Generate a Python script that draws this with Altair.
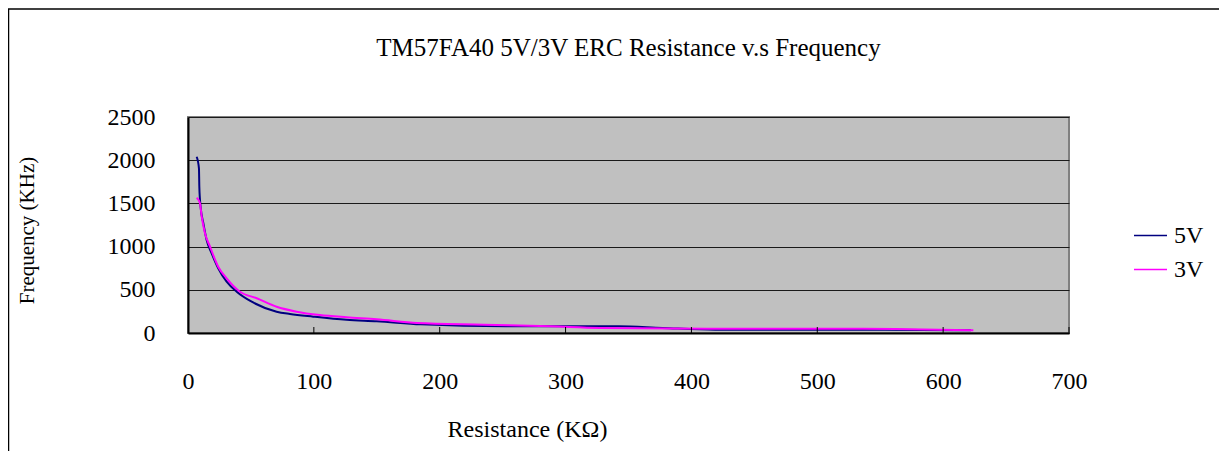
import altair as alt
import pandas as pd

series = ["5V", "3V"]
colors = ["#000080", "#FF00FF"]

r_5v = [6.9, 8.7, 9.0, 10.0, 12.2, 14.8, 18.8, 24.0, 30.7, 38.7, 50.6, 70.4, 81.0, 99.5,
        126.0, 150.0, 185.0, 253.0, 342.0, 377.0, 419.0, 554.0, 622.0]
f_5v = [2040, 1906, 1693, 1462, 1270, 1076, 922, 749, 594, 478, 362, 247, 220, 189,
        152, 135, 100, 77, 77, 58, 39, 39, 31]

r_3v = [6.9, 9.5, 10.9, 13.5, 17.5, 24.0, 30.7, 41.3, 54.6, 70.4, 86.3, 104.8, 126.0,
        150.0, 182.0, 235.0, 288.0, 327.0, 412.0, 536.0, 624.0]
f_3v = [1566, 1501, 1346, 1154, 999, 767, 633, 478, 402, 304, 247, 208, 182,
        159, 116, 96, 77, 58, 50, 50, 31]

x_ticks = [0, 100, 200, 300, 400, 500, 600, 700]
y_ticks = [0, 500, 1000, 1500, 2000, 2500]

title_text = "TM57FA40 5V/3V ERC Resistance v.s Frequency"
x_title = "Resistance (KΩ)"
y_title = "Frequency (KHz)"

df = pd.DataFrame({
    "R": r_5v + r_3v,
    "F": f_5v + f_3v,
    "Series": [series[0]] * len(r_5v) + [series[1]] * len(r_3v),
    "ord": list(range(len(r_5v))) + list(range(len(r_3v))),
})
tick_df = pd.DataFrame({"R": x_ticks[1:]})
one = pd.DataFrame({"a": [0]})

W, H = 881, 216
FONT = "Liberation Serif"

x_scale = alt.Scale(domain=[0, 700], nice=False)
y_scale = alt.Scale(domain=[0, 2500], nice=False)

x_axis = alt.Axis(values=x_ticks, title=x_title, grid=False, ticks=False, format="d",
                  labelPadding=36, labelFlush=False, domainColor="#000000", domainWidth=2,
                  titleX=339, titleY=96, titleAlign="center", titleBaseline="middle",
                  titleFontSize=24)
y_axis = alt.Axis(values=y_ticks, title=y_title, grid=True, ticks=False, format="d",
                  gridColor="#1a1a1a", gridWidth=1,
                  labelPadding=33, domainColor="#000000", domainWidth=2,
                  titleX=-161, titleY=113, titleAngle=270,
                  titleAlign="center", titleBaseline="middle", titleFontSize=21)

lines = alt.Chart(df).mark_line(strokeWidth=2, interpolate="monotone").encode(
    x=alt.X("R:Q", scale=x_scale, axis=x_axis),
    y=alt.Y("F:Q", scale=y_scale, axis=y_axis),
    color=alt.Color("Series:N", scale=alt.Scale(domain=series, range=colors),
                    legend=alt.Legend(title=None, orient="none", legendX=945, legendY=101,
                                      symbolType="stroke", symbolSize=1089,
                                      symbolStrokeWidth=1.5, labelFont=FONT,
                                      labelFontSize=24, labelColor="#000000",
                                      labelOffset=6, rowPadding=4)),
    order="ord:Q",
)

ticks = alt.Chart(tick_df).mark_rule(color="#000000", strokeWidth=1).encode(
    x=alt.X("R:Q", scale=x_scale, axis=x_axis),
    y=alt.value(H),
    y2=alt.value(H - 6),
)

frame_left = alt.Chart(one).mark_rule(color="#000000", strokeWidth=1.5).encode(
    x=alt.value(-179.5), y=alt.value(-108), y2=alt.value(360)
)
frame_top = alt.Chart(one).mark_rule(color="#000000", strokeWidth=1.5).encode(
    x=alt.value(-180), x2=alt.value(1060), y=alt.value(-108)
)

chart = alt.layer(lines, ticks, frame_left, frame_top).properties(
    width=W,
    height=H,
    title=alt.TitleParams(title_text, font=FONT, fontSize=25, fontWeight="normal",
                          color="#000000", anchor="middle", offset=0, dy=53),
    padding={"left": 180, "top": 109, "right": 150, "bottom": 118},
    autosize="none",
    background="#FFFFFF",
).configure_view(
    fill="#C0C0C0", stroke="#808080", strokeWidth=2
).configure_axis(
    labelFont=FONT, labelFontSize=24, labelColor="#000000",
    titleFont=FONT, titleFontWeight="normal", titleColor="#000000",
)

chart.save("out.html", embed_options={"renderer": "svg", "actions": False})
